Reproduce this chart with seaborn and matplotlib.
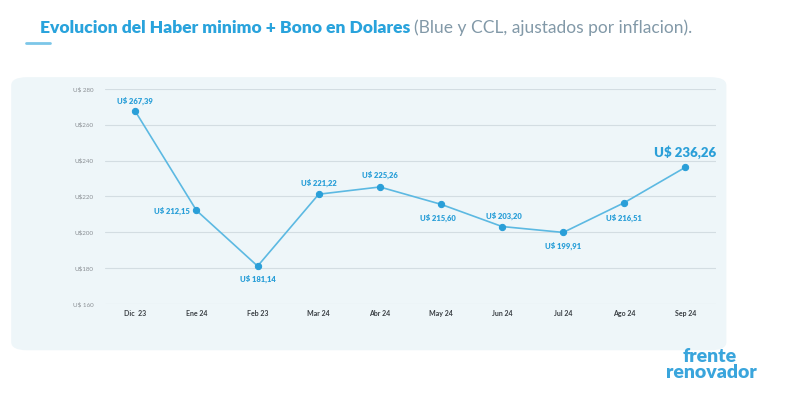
import matplotlib
matplotlib.use("Agg")
import matplotlib.pyplot as plt
import seaborn as sns
import pandas as pd
from matplotlib.patches import FancyBboxPatch

# ======= data =======
months = ["Dic  23", "Ene 24", "Feb 23", "Mar 24", "Abr 24",
          "May 24", "Jun 24", "Jul 24", "Ago 24", "Sep 24"]
values = [267.39, 212.15, 181.14, 221.22, 225.26,
          215.60, 203.20, 199.91, 216.51, 236.26]
labels = ["U$ 267,39", "U$ 212,15", "U$ 181,14", "U$ 221,22", "U$ 225,26",
          "U$ 215,60", "U$ 203,20", "U$ 199,91", "U$ 216,51", "U$ 236,26"]
y_ticks = [160, 180, 200, 220, 240, 260, 280]
y_tick_labels = ["U$ 160", "U$180", "U$200", "U$220", "U$240", "U$260", "U$ 280"]

# label offsets (points) and alignment
offsets = [(0, 8, "center"), (-5, 0, "right"), (0, -9, "center"), (0, 8.5, "center"),
           (0, 8.5, "center"), (-2, -10, "center"), (1, 8, "center"), (0, -9.5, "center"),
           (0, -11, "center"), (0, 10.5, "center")]

sns.set_theme(style="white")
plt.rcParams['font.family'] = ['Lato', 'DejaVu Sans']

BLUE = "#2a9fd8"
LINE = "#5cb9e2"
GRID = "#d3dde2"
PANEL = "#eef6f9"

df = pd.DataFrame({"mes": months, "valor": values})
df["pos"] = range(len(df))

fig = plt.figure(figsize=(8, 4.17), dpi=100)
fig.patch.set_facecolor("white")

# panel background
panel = FancyBboxPatch((0.014, 0.16), 0.894, 0.655, transform=fig.transFigure,
                       boxstyle="round,pad=0,rounding_size=0.02",
                       facecolor=PANEL, edgecolor="none", zorder=-1)
fig.patches.append(panel)

ax = fig.add_axes([0.131, 0.271, 0.764, 0.516])
ax.set_facecolor("none")
sns.lineplot(data=df, x="pos", y="valor", ax=ax, color=LINE, linewidth=1.2,
             marker="o", markersize=4.5, markerfacecolor=BLUE, markeredgecolor=BLUE,
             zorder=3)

ax.set_xlim(-0.5, 9.5)
ax.set_ylim(160, 280)
ax.set_yticks(y_ticks)
ax.set_yticklabels(y_tick_labels, fontsize=4.5, color="#8a8f94")
ax.set_xticks(df["pos"])
ax.set_xticklabels(months, fontsize=5, color="#3a3f44", fontweight="bold")
ax.tick_params(axis="y", length=0, pad=8)
ax.tick_params(axis="x", length=0, pad=4)
ax.grid(axis="y", color=GRID, linewidth=0.8)
for s in ax.spines.values():
    s.set_visible(False)
ax.set_xlabel("")
ax.set_ylabel("")

for i, (v, lab) in enumerate(zip(values, labels)):
    dx, dy, ha = offsets[i]
    big = i == len(values) - 1
    ax.annotate(lab, (i, v), xytext=(dx, dy), textcoords="offset points",
                ha=ha, va="center", fontsize=9.5 if big else 5.5,
                fontweight="heavy", color=BLUE, zorder=4)

# title
t1 = fig.text(0.05, 0.933, "Evolucion del Haber minimo + Bono en Dolares",
              fontsize=12.6, fontweight="heavy", color="#29a3dc", va="center")
fig.canvas.draw()
bb = t1.get_window_extent()
x_end = bb.x1 / fig.bbox.width
fig.text(x_end + 0.005, 0.933, "(Blue y CCL, ajustados por inflacion).",
         fontsize=12.5, fontweight="normal", color="#8299a8", va="center")
fig.add_artist(plt.Line2D([0.032, 0.063], [0.897, 0.897], transform=fig.transFigure,
                          color="#7cc6e8", linewidth=2))

# logo
fig.text(0.887, 0.144, "frente", fontsize=14, fontweight="heavy", color="#3aa5dc",
         ha="center", va="center")
fig.text(0.889, 0.106, "renovador", fontsize=14, fontweight="heavy", color="#3aa5dc",
         ha="center", va="center")

plt.savefig("out.png", dpi=100, facecolor="white")
